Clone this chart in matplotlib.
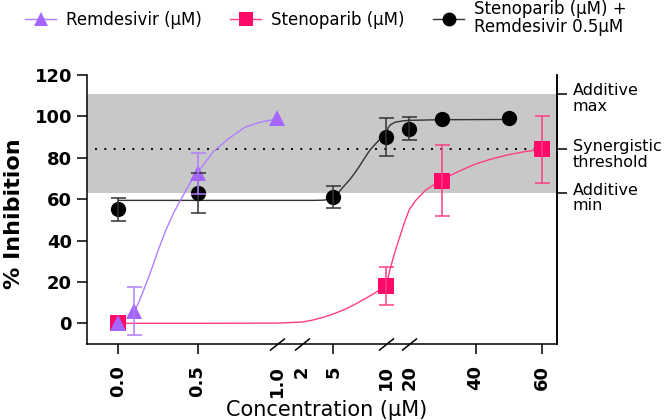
import numpy as np
import matplotlib
matplotlib.use("Agg")
import matplotlib.pyplot as plt
from matplotlib.lines import Line2D

plt.rcParams['font.family'] = ['DejaVu Sans']

# measured points: concentration (uM), % inhibition, error
remdesivir_x = [0.0, 0.1, 0.5, 1.0]
remdesivir_y = [0, 6, 72.5, 99]
remdesivir_err = [0, 11.5, 10, 0]

stenoparib_x = [0.0, 10, 30, 60]
stenoparib_y = [0, 18, 69, 84]
stenoparib_err = [0, 9, 17, 16]

combo_x = [0.0, 0.5, 5, 10, 20, 30, 50]
combo_y = [55, 63, 61, 90, 94, 98.5, 99]
combo_err = [5.5, 9.5, 5.3, 9.2, 5.5, 0, 0]

# fitted curves
remdesivir_fit_x = [0.1, 0.15, 0.2, 0.25, 0.3, 0.35, 0.4, 0.45, 0.5, 0.6, 0.7, 0.8, 0.9, 1.0]
remdesivir_fit_y = [5, 14, 24, 35, 45, 53.5, 60.5, 67.5, 73, 83, 89.5, 94.8, 97.3, 98.8]

stenoparib_fit_x = [0, 0.5, 1, 2, 3, 4, 5, 6, 7, 8, 9, 10, 11, 12, 13, 14, 15, 16, 17, 18, 19, 20,
                    22, 25, 30, 35, 40, 45, 50, 55, 60]
stenoparib_fit_y = [0, 0, 0.1, 0.6, 1.5, 2.8, 4.5, 6.5, 9, 11.8, 14.8, 18, 22.5, 27, 31, 35, 38.5,
                    42, 45.5, 49, 52, 55, 59.5, 64.5, 69.5, 73.5, 77, 79.5, 81.5, 83, 84]

combo_fit_x = [0, 0.5, 1, 2, 3, 4, 4.5, 5, 5.5, 6, 6.5, 7, 7.5, 8, 8.5, 9, 9.5, 10, 11, 12, 14, 17, 20, 30, 50]
combo_fit_y = [59.4, 59.4, 59.4, 59.4, 59.4, 59.5, 59.8, 60.5, 63.2, 66.2, 69, 72.3, 76, 80, 83.8, 86.6, 89.3, 91, 94.5, 96, 97.2, 97.8, 98.1, 98.4, 98.5]

band_levels = [63, 84, 111]
band_labels = ["Additive\nmin", "Synergistic\nthreshold", "Additive\nmax"]

x_ticks = [0.0, 0.5, 1.0, 2, 5, 10, 20, 40, 60]
x_tick_labels = ["0.0", "0.5", "1.0", "2", "5", "10", "20", "40", "60"]
break_at = [1.0, 2, 10, 20]
y_ticks = [0, 20, 40, 60, 80, 100, 120]

purple = '#a466ff'
purple_line = '#b27dff'
pink = '#ff0a68'
pink_line = '#ff3d86'

# broken x axis: three linear segments glued together
seg_x = [0, 1, 2, 10, 20, 60]
seg_p = [0, 158.7, 183.5, 267.7, 291.2, 423.7]


def fwd(x):
    x = np.asarray(x, float)
    p = np.interp(x, seg_x, seg_p)
    p = np.where(x < 0, x * 158.7, p)
    p = np.where(x > 60, 423.7 + (x - 60) * 3.31, p)
    return p


def inv(p):
    p = np.asarray(p, float)
    x = np.interp(p, seg_p, seg_x)
    x = np.where(p < 0, p / 158.7, x)
    x = np.where(p > 423.7, 60 + (p - 423.7) / 3.31, x)
    return x


fig = plt.figure(figsize=(6.66, 4.2), dpi=100)
ax = fig.add_axes([87 / 666, 1 - 344 / 420, 470 / 666, 269 / 420])
ax.set_xscale('function', functions=(fwd, inv))
ax.set_xlim(-0.197, 64.6)
ax.set_ylim(-10, 120)

ax.axhspan(band_levels[0], band_levels[2], color='#c8c8c8', lw=0, zorder=0)
ax.axhline(band_levels[1], xmin=0.017, xmax=0.98, color='black', lw=1.4,
           ls=(0, (1, 3.8)), zorder=1)

# curves
ax.plot(combo_fit_x, combo_fit_y, color='#333333', lw=1.0, zorder=2)
ax.plot(stenoparib_fit_x, stenoparib_fit_y, color=pink_line, lw=1.0, zorder=2)
ax.plot(remdesivir_fit_x, remdesivir_fit_y, color=purple_line, lw=1.0, zorder=2)


def draw_points(x, y, err, color, ecolor, marker):
    x, y, err = np.asarray(x), np.asarray(y), np.asarray(err)
    ax.plot(x, y, ls='none', marker=marker, ms=11, mew=0, color=color, zorder=4)
    has = err > 0
    ax.errorbar(x[has], y[has], yerr=err[has], fmt='none', ecolor=ecolor,
                elinewidth=1.1, capsize=5.4, capthick=1.1, zorder=5)


draw_points(combo_x, combo_y, combo_err, 'black', '#333333', 'o')
draw_points(stenoparib_x, stenoparib_y, stenoparib_err, pink, pink_line, 's')
draw_points(remdesivir_x, remdesivir_y, remdesivir_err, purple, purple_line, '^')

# axes styling
for s in ['left', 'bottom', 'right']:
    ax.spines[s].set_linewidth(1.1)
ax.spines['top'].set_visible(False)

ax.set_xticks(x_ticks, x_tick_labels, rotation=90, fontsize=13, fontweight='bold')
ax.xaxis.set_minor_locator(matplotlib.ticker.NullLocator())
ax.set_yticks(y_ticks, [str(v) for v in y_ticks], fontsize=13, fontweight='bold')
ax.tick_params(axis='both', length=7.2, width=1.1, color='black')
ax.tick_params(axis='x', pad=8)
ax.tick_params(axis='y', pad=3.6)
for v, t in zip(x_ticks, ax.xaxis.get_major_ticks()):
    if v in break_at:
        t.tick1line.set_visible(False)

# break marks
ax.plot(break_at, [0] * len(break_at), transform=ax.get_xaxis_transform(),
        marker=[(-1, -0.8), (1, 0.8)], ms=10.8, mew=1.1, ls='none',
        color='black', clip_on=False, zorder=6)

ax.set_ylabel('% Inhibition', fontsize=16, fontweight='bold', va='center')
ax.yaxis.set_label_coords((14 - 87) / 470, 0.485)
ax.set_xlabel('Concentration (μM)', fontsize=15, va='center')
ax.xaxis.set_label_coords((326.5 - 87) / 470, (344 - 410) / 269)

# right-hand axis with threshold labels
ax2 = ax.twinx()
ax2.set_ylim(ax.get_ylim())
ax2.set_yticks(band_levels, [''] * len(band_levels))
ax2.tick_params(axis='y', length=7.2, width=1.1, color='black')
for s in ['left', 'top', 'bottom']:
    ax2.spines[s].set_visible(False)
ax2.spines['right'].set_linewidth(1.1)
for lvl, lab in zip(band_levels, band_labels):
    ax.annotate(lab, xy=(1, lvl), xycoords=('axes fraction', 'data'),
                xytext=(11.5, -3.5), textcoords='offset points',
                va='center', ha='left', fontsize=11.5, linespacing=1.05)

# legend
handles = [
    Line2D([], [], color=purple_line, lw=1, marker='^', ms=10, mew=0, mfc=purple),
    Line2D([], [], color=pink_line, lw=1, marker='s', ms=10, mew=0, mfc=pink),
    Line2D([], [], color='#333333', lw=1, marker='o', ms=10, mew=0, mfc='black'),
]
labels = ['Remdesivir (μM)', 'Stenoparib (μM)', 'Stenoparib (μM) +\nRemdesivir 0.5μM']
leg = fig.legend(handles, labels, loc='center left', bbox_to_anchor=(25 / 666, 1 - 18 / 420),
                 ncol=3, frameon=False, fontsize=12, handlelength=1.86, handletextpad=0.6,
                 columnspacing=1.7, borderpad=0, borderaxespad=0)
for t in leg.get_texts():
    t.set_linespacing(0.95)

fig.savefig('out.png', dpi=100)
